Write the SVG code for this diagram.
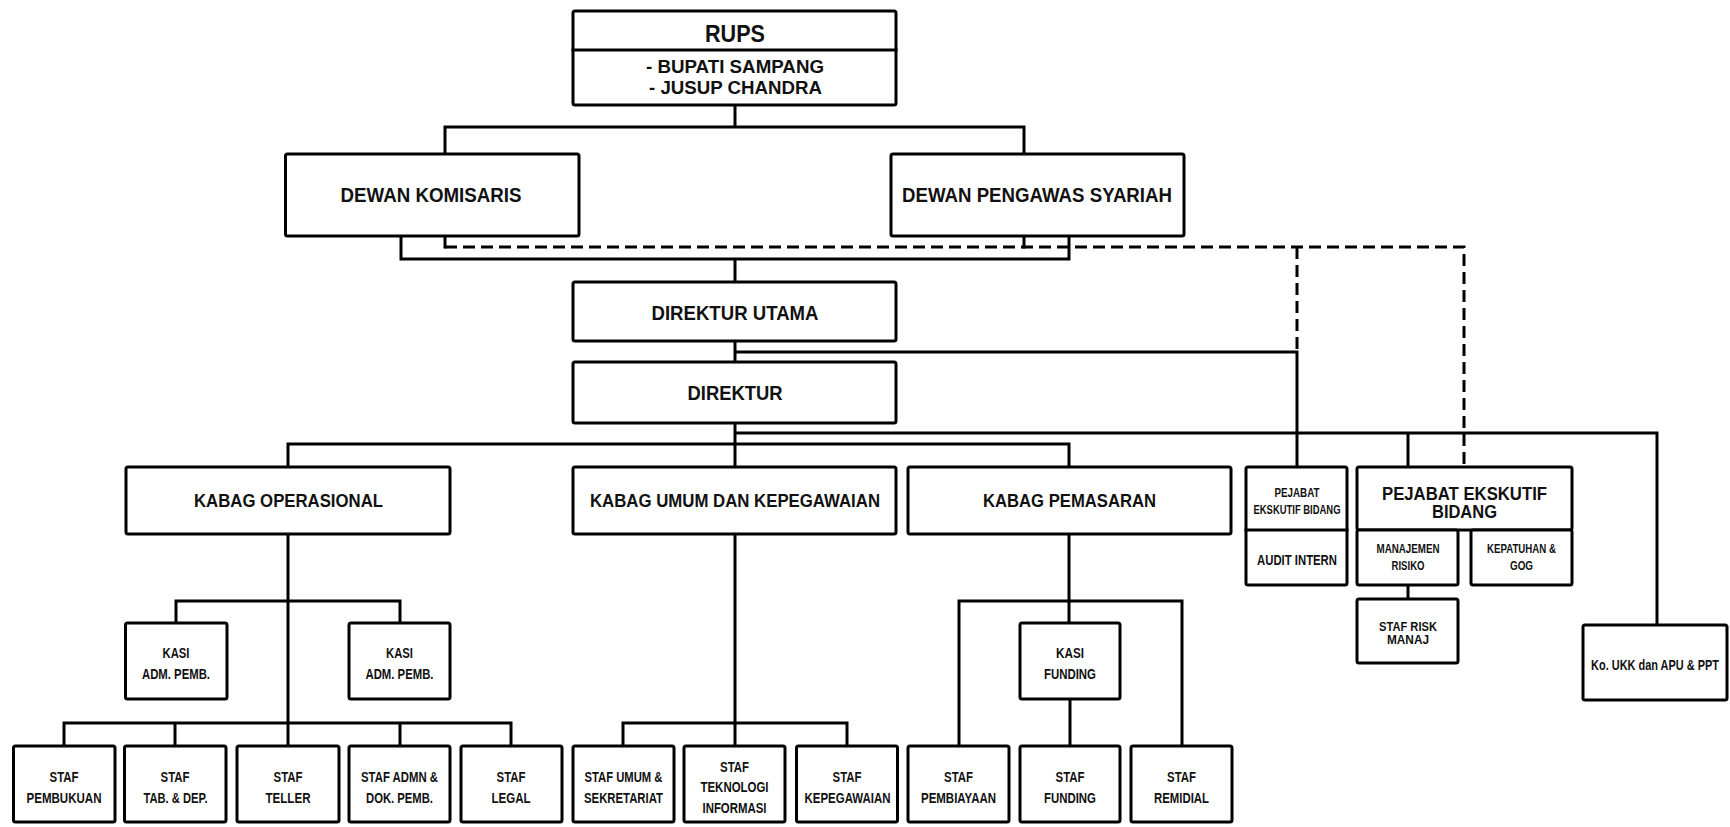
<svg xmlns="http://www.w3.org/2000/svg" width="1730" height="827" viewBox="0 0 1730 827">
<style>
.bg{fill:#fff}
.box{fill:#fff;stroke:#000;stroke-width:3;stroke-linejoin:round}
.ln{fill:none;stroke:#000;stroke-width:3;stroke-linecap:square}
.dash{fill:none;stroke:#000;stroke-width:3;stroke-dasharray:12 6}
text{font-family:"Liberation Sans",Arial,sans-serif;font-weight:bold;text-anchor:middle;fill:#111}
.t23{font-size:23px}.t20{font-size:20.5px}.t19{font-size:19.5px}.t18{font-size:18.5px}.t15{font-size:15px}.t14{font-size:14.5px}.t13{font-size:13.5px}.t12{font-size:12.5px}
</style>
<rect class="bg" x="0" y="0" width="1730" height="827"/>
<g id="connectors">
<path class="ln" d="M735 105V127M445 127H1024M445 127V154M1024 127V154"/>
<path class="ln" d="M445 236V247M1024 236V247"/>
<path class="dash" d="M445 247H1464V467M1297 247V352"/>
<path class="ln" d="M401 236V259H1069V236M735 259V282"/>
<path class="ln" d="M735 341V362M735 352H1297V467"/>
<path class="ln" d="M735 423V467M735 433H1657V625M1408 433V467M288 444H1069M288 444V467M1069 444V467"/>
<path class="ln" d="M288 534V723M176 601H400M176 601V623M400 601V623M64 723H511M64 723V746M175 723V746M288 723V746M400 723V746M511 723V746"/>
<path class="ln" d="M735 534V746M623 723H847M623 723V746M847 723V746"/>
<path class="ln" d="M1069 534V623M959 601H1182M959 601V746M1182 601V746M1070 699V746"/>
<path class="ln" d="M1408 585V599"/>
</g>
<g id="rups">
<rect class="box" x="573" y="11" width="323" height="94" rx="2"/>
<path class="ln" d="M573 50H896"/>
<text class="t23" x="735" y="41.5" textLength="60" lengthAdjust="spacingAndGlyphs">RUPS</text>
<text class="t18" x="735" y="73" textLength="178" lengthAdjust="spacingAndGlyphs">- BUPATI SAMPANG</text>
<text class="t18" x="735.5" y="94" textLength="173" lengthAdjust="spacingAndGlyphs">- JUSUP CHANDRA</text>
</g>
<g id="dewan-komisaris">
<rect class="box" x="285.5" y="154" width="293.5" height="82" rx="2"/>
<text class="t20" x="431" y="202" textLength="181" lengthAdjust="spacingAndGlyphs">DEWAN KOMISARIS</text>
</g>
<g id="dewan-pengawas">
<rect class="box" x="891" y="154" width="293" height="82" rx="2"/>
<text class="t20" x="1037" y="202" textLength="270" lengthAdjust="spacingAndGlyphs">DEWAN PENGAWAS SYARIAH</text>
</g>
<g id="direktur-utama">
<rect class="box" x="573" y="282" width="323" height="59" rx="2"/>
<text class="t19" x="735" y="320" textLength="167" lengthAdjust="spacingAndGlyphs">DIREKTUR UTAMA</text>
</g>
<g id="direktur">
<rect class="box" x="573" y="362" width="323" height="61" rx="2"/>
<text class="t19" x="735" y="400" textLength="95" lengthAdjust="spacingAndGlyphs">DIREKTUR</text>
</g>
<g id="kabag-operasional">
<rect class="box" x="126" y="467" width="324" height="67" rx="2"/>
<text class="t18" x="288.5" y="507" textLength="189" lengthAdjust="spacingAndGlyphs">KABAG OPERASIONAL</text>
</g>
<g id="kabag-umum">
<rect class="box" x="573" y="467" width="323" height="67" rx="2"/>
<text class="t18" x="735" y="507" textLength="290" lengthAdjust="spacingAndGlyphs">KABAG UMUM DAN KEPEGAWAIAN</text>
</g>
<g id="kabag-pemasaran">
<rect class="box" x="908" y="467" width="323" height="67" rx="2"/>
<text class="t18" x="1069.5" y="507" textLength="173" lengthAdjust="spacingAndGlyphs">KABAG PEMASARAN</text>
</g>
<g id="pejabat-audit">
<rect class="box" x="1246" y="467" width="101" height="118" rx="2"/>
<path class="ln" d="M1246 530H1347"/>
<text class="t12" x="1297" y="497" textLength="45" lengthAdjust="spacingAndGlyphs">PEJABAT</text>
<text class="t12" x="1297" y="514" textLength="87" lengthAdjust="spacingAndGlyphs">EKSKUTIF BIDANG</text>
<text class="t15" x="1297" y="565" textLength="80" lengthAdjust="spacingAndGlyphs">AUDIT INTERN</text>
</g>
<g id="pejabat-bidang">
<rect class="box" x="1357" y="467" width="215" height="63" rx="2"/>
<text class="t18" x="1464.5" y="500" textLength="165" lengthAdjust="spacingAndGlyphs">PEJABAT EKSKUTIF</text>
<text class="t18" x="1464.5" y="518" textLength="65" lengthAdjust="spacingAndGlyphs">BIDANG</text>
</g>
<g id="manajemen-risiko">
<rect class="box" x="1357" y="530" width="101" height="55" rx="2"/>
<text class="t12" x="1408" y="553" textLength="63" lengthAdjust="spacingAndGlyphs">MANAJEMEN</text>
<text class="t12" x="1408" y="570" textLength="33" lengthAdjust="spacingAndGlyphs">RISIKO</text>
</g>
<g id="kepatuhan">
<rect class="box" x="1471" y="530" width="101" height="55" rx="2"/>
<text class="t12" x="1521.5" y="553" textLength="69" lengthAdjust="spacingAndGlyphs">KEPATUHAN &amp;</text>
<text class="t12" x="1521.5" y="570" textLength="23" lengthAdjust="spacingAndGlyphs">GOG</text>
</g>
<g id="staf-risk">
<rect class="box" x="1357" y="599" width="101" height="64" rx="2"/>
<text class="t13" x="1408" y="631" textLength="58" lengthAdjust="spacingAndGlyphs">STAF RISK</text>
<text class="t13" x="1408" y="644" textLength="42" lengthAdjust="spacingAndGlyphs">MANAJ</text>
</g>
<g id="ko-ukk">
<rect class="box" x="1583" y="625" width="144" height="75" rx="2"/>
<text class="t15" transform="translate(1655 670) scale(0.73 1)" x="0" y="0">Ko. UKK dan APU &amp; PPT</text>
</g>
<g id="kasi-adm-1">
<rect class="box" x="125.5" y="623" width="101.5" height="76" rx="2"/>
<text class="t14" x="176" y="658" textLength="27" lengthAdjust="spacingAndGlyphs">KASI</text>
<text class="t14" x="176" y="679" textLength="68" lengthAdjust="spacingAndGlyphs">ADM. PEMB.</text>
</g>
<g id="kasi-adm-2">
<rect class="box" x="349" y="623" width="101" height="76" rx="2"/>
<text class="t14" x="399.5" y="658" textLength="27" lengthAdjust="spacingAndGlyphs">KASI</text>
<text class="t14" x="399.5" y="679" textLength="68" lengthAdjust="spacingAndGlyphs">ADM. PEMB.</text>
</g>
<g id="kasi-funding">
<rect class="box" x="1020" y="623" width="100" height="76" rx="2"/>
<text class="t14" x="1070" y="658" textLength="28" lengthAdjust="spacingAndGlyphs">KASI</text>
<text class="t14" x="1070" y="679" textLength="52" lengthAdjust="spacingAndGlyphs">FUNDING</text>
</g>
<g id="staf-pembukuan">
<rect class="box" x="13.5" y="746" width="101.5" height="76" rx="2"/>
<text class="t14" x="64" y="782" textLength="29" lengthAdjust="spacingAndGlyphs">STAF</text>
<text class="t14" x="64" y="803" textLength="75" lengthAdjust="spacingAndGlyphs">PEMBUKUAN</text>
</g>
<g id="staf-tab">
<rect class="box" x="124.5" y="746" width="101.5" height="76" rx="2"/>
<text class="t14" x="175" y="782" textLength="29" lengthAdjust="spacingAndGlyphs">STAF</text>
<text class="t14" x="175.5" y="803" textLength="64" lengthAdjust="spacingAndGlyphs">TAB. &amp; DEP.</text>
</g>
<g id="staf-teller">
<rect class="box" x="237" y="746" width="102" height="76" rx="2"/>
<text class="t14" x="288" y="782" textLength="29" lengthAdjust="spacingAndGlyphs">STAF</text>
<text class="t14" x="288" y="803" textLength="45" lengthAdjust="spacingAndGlyphs">TELLER</text>
</g>
<g id="staf-admn">
<rect class="box" x="349" y="746" width="101" height="76" rx="2"/>
<text class="t14" x="399.5" y="782" textLength="77" lengthAdjust="spacingAndGlyphs">STAF ADMN &amp;</text>
<text class="t14" x="399.5" y="803" textLength="67" lengthAdjust="spacingAndGlyphs">DOK. PEMB.</text>
</g>
<g id="staf-legal">
<rect class="box" x="461" y="746" width="101" height="76" rx="2"/>
<text class="t14" x="511" y="782" textLength="29" lengthAdjust="spacingAndGlyphs">STAF</text>
<text class="t14" x="511" y="803" textLength="39" lengthAdjust="spacingAndGlyphs">LEGAL</text>
</g>
<g id="staf-umum">
<rect class="box" x="573" y="746" width="101" height="76" rx="2"/>
<text class="t14" x="623.5" y="782" textLength="78" lengthAdjust="spacingAndGlyphs">STAF UMUM &amp;</text>
<text class="t14" x="623.5" y="803" textLength="79" lengthAdjust="spacingAndGlyphs">SEKRETARIAT</text>
</g>
<g id="staf-ti">
<rect class="box" x="684" y="746" width="101" height="76" rx="2"/>
<text class="t14" x="734.5" y="772" textLength="29" lengthAdjust="spacingAndGlyphs">STAF</text>
<text class="t14" x="734.5" y="792" textLength="68" lengthAdjust="spacingAndGlyphs">TEKNOLOGI</text>
<text class="t14" x="734.5" y="813" textLength="64" lengthAdjust="spacingAndGlyphs">INFORMASI</text>
</g>
<g id="staf-kepegawaian">
<rect class="box" x="796.5" y="746" width="101" height="76" rx="2"/>
<text class="t14" x="847" y="782" textLength="29" lengthAdjust="spacingAndGlyphs">STAF</text>
<text class="t14" x="847.5" y="803" textLength="86" lengthAdjust="spacingAndGlyphs">KEPEGAWAIAN</text>
</g>
<g id="staf-pembiayaan">
<rect class="box" x="908" y="746" width="101" height="76" rx="2"/>
<text class="t14" x="958.5" y="782" textLength="29" lengthAdjust="spacingAndGlyphs">STAF</text>
<text class="t14" x="958.5" y="803" textLength="75" lengthAdjust="spacingAndGlyphs">PEMBIAYAAN</text>
</g>
<g id="staf-funding">
<rect class="box" x="1020" y="746" width="100" height="76" rx="2"/>
<text class="t14" x="1070" y="782" textLength="29" lengthAdjust="spacingAndGlyphs">STAF</text>
<text class="t14" x="1070" y="803" textLength="52" lengthAdjust="spacingAndGlyphs">FUNDING</text>
</g>
<g id="staf-remidial">
<rect class="box" x="1131" y="746" width="101" height="76" rx="2"/>
<text class="t14" x="1181.5" y="782" textLength="29" lengthAdjust="spacingAndGlyphs">STAF</text>
<text class="t14" x="1181.5" y="803" textLength="55" lengthAdjust="spacingAndGlyphs">REMIDIAL</text>
</g>
</svg>
